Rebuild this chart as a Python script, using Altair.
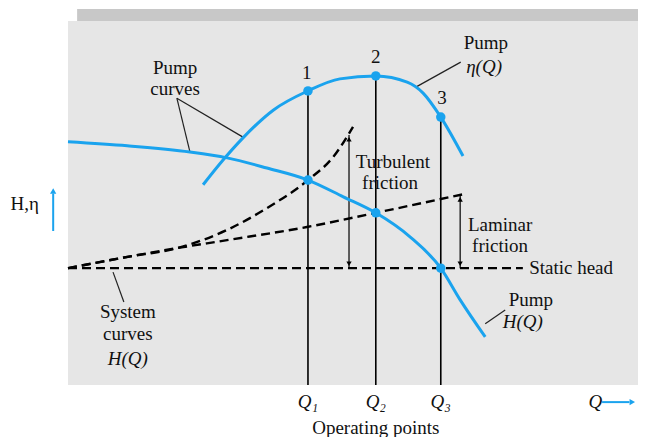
import altair as alt
import pandas as pd

# ---- data (Q and H in arbitrary units: panel spans 0..100 on both) ----
eta_q = [23.7, 27.2, 30.7, 36.0, 42.1, 47.7, 54.0, 59.5, 62.3, 65.4, 69.3]
eta_h = [55.0, 61.8, 67.9, 75.5, 80.8, 84.1, 84.9, 83.2, 80.2, 73.6, 62.9]

pump_q = [0, 10.4, 21.4, 27.9, 34.9, 42.1, 48.3, 54.0, 60.0, 65.4, 68.8, 73.2]
pump_h = [66.8, 65.7, 64.0, 62.4, 59.6, 56.3, 51.7, 47.3, 40.7, 32.1, 23.4, 13.2]

turb_q = [0, 10.4, 19.1, 27.9, 34.9, 42.1, 46.5, 50.0]
turb_h = [32.1, 35.2, 37.6, 42.6, 48.6, 56.3, 62.6, 70.9]

lam_q = [0, 19.1, 27.9, 41.9, 54.0, 69.6]
lam_h = [32.1, 37.6, 39.8, 43.4, 47.3, 52.5]

static_q = [0, 79.8]
static_h = [32.1, 32.1]

op_q = [42.1, 54.0, 65.4]
op_eta = [80.8, 84.9, 73.6]
op_h = [56.3, 47.3, 32.1]
op_num = ["1", "2", "3"]
op_lbl = ["Q₁", "Q₂", "Q₃"]

# leader lines
lead_x = [19.1, 19.1, 68.9, 7.9, 76.7]
lead_y = [78.8, 78.8, 88.7, 31.0, 20.6]
lead_x2 = [21.4, 30.7, 61.1, 9.8, 73.2]
lead_y2 = [64.0, 68.1, 81.9, 22.8, 16.8]

# double arrows (turbulent, laminar friction)
darr_q = [49.3, 68.8]
darr_lo = [32.1, 32.1]
darr_hi = [68.7, 52.2]

# text labels
txt_c = ["Turbulent", "friction", "Laminar", "friction", "Pump", "Pump", "curves",
         "System", "curves", "Pump", "Operating points", "H,η"]
txt_cq = [57.0, 56.5, 75.8, 75.8, 73.3, 18.8, 18.8, 10.5, 10.5, 81.2, 54.0, -7.6]
txt_ch = [61.3, 55.5, 44.0, 38.2, 94.0, 87.1, 81.3, 20.1, 14.0, 23.4, -11.8, 49.8]

txt_i = ["η(Q)", "H(Q)", "H(Q)", "Q"]
txt_iq = [73.0, 10.5, 79.8, 92.5]
txt_ih = [87.4, 7.1, 17.3, -4.7]

BLUE = "#1aa3ee"
FONT = "Liberation Serif"
FS = 19

xs = alt.Scale(domain=[0, 100], nice=False, zero=False)
ys = alt.Scale(domain=[0, 100], nice=False, zero=False)


def X(f="Q"):
    return alt.X(f"{f}:Q", scale=xs, axis=None)


def Y(f="H"):
    return alt.Y(f"{f}:Q", scale=ys, axis=None)


shadow = alt.Chart(pd.DataFrame({"x": [1.6], "x2": [100], "y": [100], "y2": [103.3]})).mark_rect(
    color="#c8c8c8").encode(x=X("x"), x2="x2:Q", y=Y("y"), y2="y2:Q")

eta_df = pd.DataFrame({"Q": eta_q, "H": eta_h})
pump_df = pd.DataFrame({"Q": pump_q, "H": pump_h})
turb_df = pd.DataFrame({"Q": turb_q, "H": turb_h})
lam_df = pd.DataFrame({"Q": lam_q, "H": lam_h})
static_df = pd.DataFrame({"Q": static_q, "H": static_h})
op_df = pd.DataFrame({"Q": op_q, "eta": op_eta, "H": op_h, "num": op_num, "lbl": op_lbl,
                      "zero": [0, 0, 0], "lblH": [-4.7] * 3,
                      "numH": [85.7, 90.1, 78.8], "numQ": [41.9, 54.0, 65.6]})

dash = dict(color="black", strokeWidth=2.4, strokeDash=[9, 5])

static_line = alt.Chart(static_df).mark_line(**dash).encode(x=X(), y=Y())
turb_line = alt.Chart(turb_df).mark_line(interpolate="monotone", **dash).encode(x=X(), y=Y())
lam_line = alt.Chart(lam_df).mark_line(interpolate="monotone", **dash).encode(x=X(), y=Y())

vlines = alt.Chart(op_df).mark_rule(color="black", strokeWidth=1.6).encode(
    x=X(), y=Y("zero"), y2="eta:Q")

eta_line = alt.Chart(eta_df).mark_line(color=BLUE, strokeWidth=3, interpolate="monotone").encode(
    x=X(), y=Y())
pump_line = alt.Chart(pump_df).mark_line(color=BLUE, strokeWidth=3, interpolate="monotone").encode(
    x=X(), y=Y())

pts_eta = alt.Chart(op_df).mark_circle(color=BLUE, opacity=1, size=90).encode(x=X(), y=Y("eta"))
pts_h = alt.Chart(op_df).mark_circle(color=BLUE, opacity=1, size=90).encode(x=X(), y=Y("H"))

leaders = alt.Chart(pd.DataFrame({"x": lead_x, "y": lead_y, "x2": lead_x2, "y2": lead_y2})).mark_rule(
    color="#222222", strokeWidth=1.2).encode(x=X("x"), y=Y("y"), x2="x2:Q", y2="y2:Q")

darr_df = pd.DataFrame({"Q": darr_q, "lo": darr_lo, "hi": darr_hi,
                        "lo_h": [33.3, 33.3], "hi_h": [67.5, 51.0]})
darr = alt.Chart(darr_df).mark_rule(color="black", strokeWidth=1.2).encode(
    x=X(), y=Y("lo"), y2="hi:Q")
darr_up = alt.Chart(darr_df).mark_point(shape="triangle-up", filled=True, color="black",
                                        opacity=1, size=28).encode(x=X(), y=Y("hi_h"))
darr_dn = alt.Chart(darr_df).mark_point(shape="triangle-down", filled=True, color="black",
                                        opacity=1, size=28).encode(x=X(), y=Y("lo_h"))

# blue axis arrows
barr_v = alt.Chart(pd.DataFrame({"Q": [-2.6], "y": [42.3], "y2": [52.6]})).mark_rule(
    color=BLUE, strokeWidth=2).encode(x=X(), y=Y("y"), y2="y2:Q")
barr_v_head = alt.Chart(pd.DataFrame({"Q": [-2.6], "H": [53.3]})).mark_point(
    shape="triangle-up", filled=True, color=BLUE, opacity=1, size=40).encode(x=X(), y=Y())
barr_h = alt.Chart(pd.DataFrame({"x": [93.7], "x2": [98.5], "H": [-4.7]})).mark_rule(
    color=BLUE, strokeWidth=2).encode(x=X("x"), x2="x2:Q", y=Y())
barr_h_head = alt.Chart(pd.DataFrame({"Q": [99.0], "H": [-4.7]})).mark_point(
    shape="triangle-right", filled=True, color=BLUE, opacity=1, size=40).encode(x=X(), y=Y())

txt_center = alt.Chart(pd.DataFrame({"t": txt_c, "Q": txt_cq, "H": txt_ch})).mark_text(
    font=FONT, fontSize=FS, color="#111111", align="center", baseline="middle").encode(
    x=X(), y=Y(), text="t:N")
txt_italic = alt.Chart(pd.DataFrame({"t": txt_i, "Q": txt_iq, "H": txt_ih})).mark_text(
    font=FONT, fontSize=FS, fontStyle="italic", color="#111111", align="center",
    baseline="middle").encode(x=X(), y=Y(), text="t:N")
txt_static = alt.Chart(pd.DataFrame({"t": ["Static head"], "Q": [80.9], "H": [32.1]})).mark_text(
    font=FONT, fontSize=FS, color="#111111", align="left", baseline="middle").encode(
    x=X(), y=Y(), text="t:N")
txt_nums = alt.Chart(op_df).mark_text(font=FONT, fontSize=FS, color="#111111",
                                      baseline="middle").encode(x=X("numQ"), y=Y("numH"), text="num:N")
txt_qs = alt.Chart(op_df).mark_text(font=FONT, fontSize=FS, fontStyle="italic", color="#111111",
                                    baseline="middle").encode(x=X(), y=Y("lblH"), text="lbl:N")

chart = alt.layer(
    shadow, static_line, turb_line, lam_line, vlines, darr, darr_up, darr_dn,
    leaders, eta_line, pump_line, pts_eta, pts_h, barr_v, barr_v_head, barr_h, barr_h_head,
    txt_center, txt_italic, txt_static, txt_nums, txt_qs
).properties(
    width=570, height=364,
    padding={"left": 60, "top": 13, "right": 0, "bottom": 52},
    autosize=alt.AutoSizeParams(type="none"),
    background="white",
).configure_view(fill="#e6e6e6", strokeWidth=0)

chart.save("out.html", embed_options={"renderer": "svg", "actions": False})
